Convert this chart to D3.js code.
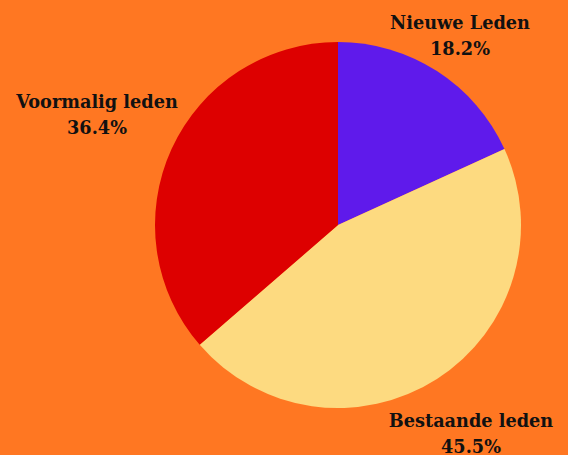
<!DOCTYPE html>
<html>
<head>
<meta charset="utf-8">
<script src="https://cdn.jsdelivr.net/npm/d3@7"></script>
<style>
  html, body { margin: 0; padding: 0; background: #ff7722; }
  svg { display: block; }
</style>
</head>
<body>
<svg id="chart" width="568" height="455"></svg>
<script>
const categories = ["Nieuwe Leden", "Bestaande leden", "Voormalig leden"];
const values = [2, 5, 4];
const colors = ["#5f1aeb", "#fdda80", "#dd0000"];
const labelPositions = [[460, 29], [471, 427], [97, 108]];

const W = 568, H = 455;
const cx = 338, cy = 225, R = 183;
const svg = d3.select("#chart");
svg.append("rect").attr("width", W).attr("height", H).attr("fill", "#ff7722");

const total = d3.sum(values);
const data = categories.map((c, i) => ({ name: c, value: values[i], color: colors[i], pos: labelPositions[i] }));
const pie = d3.pie().sort(null).value(d => d.value);
const arc = d3.arc().innerRadius(0).outerRadius(R);
const g = svg.append("g").attr("transform", `translate(${cx},${cy})`);
const arcs = pie(data);
g.selectAll("path").data(arcs).join("path")
  .attr("d", arc).attr("fill", d => d.data.color);

const fmt = d3.format(".1f");
const lg = svg.append("g")
  .attr("font-family", "'DejaVu Serif', serif")
  .attr("font-weight", "bold")
  .attr("font-size", 17.7)
  .attr("fill", "#111")
  .attr("text-anchor", "middle");
arcs.forEach(a => {
  const t = lg.append("text").attr("x", a.data.pos[0]).attr("y", a.data.pos[1]);
  t.append("tspan").attr("x", a.data.pos[0]).text(a.data.name);
  t.append("tspan").attr("x", a.data.pos[0]).attr("dy", 25.5).text(fmt(a.data.value / total * 100) + "%");
});
</script>
</body>
</html>
